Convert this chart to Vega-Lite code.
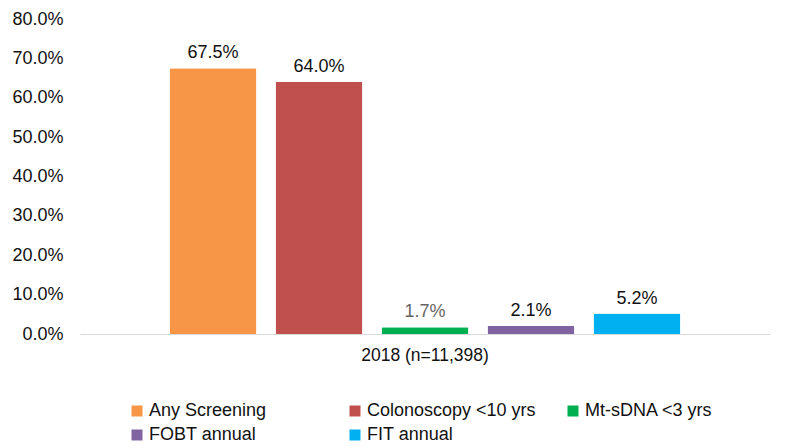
{
  "$schema": "https://vega.github.io/schema/vega-lite/v6.json",
  "autosize": {"type": "none"},
  "padding": {"left": 80, "top": 19, "right": 17, "bottom": 112},
  "width": 690,
  "height": 315,
  "background": "white",
  "config": {
    "font": "Liberation Sans",
    "view": {"stroke": null}
  },
  "data": {
    "values": [
      {"year": "2018 (n=11,398)", "series": "Any Screening", "value": 0.675},
      {"year": "2018 (n=11,398)", "series": "Colonoscopy <10 yrs", "value": 0.640},
      {"year": "2018 (n=11,398)", "series": "Mt-sDNA <3 yrs", "value": 0.017},
      {"year": "2018 (n=11,398)", "series": "FOBT annual", "value": 0.021},
      {"year": "2018 (n=11,398)", "series": "FIT annual", "value": 0.052}
    ]
  },
  "encoding": {
    "x": {
      "field": "year", "type": "nominal",
      "scale": {"paddingInner": 0, "paddingOuter": 0.151},
      "axis": {"title": null, "labelAngle": 0, "ticks": false, "domainColor": "#d9d9d9", "labelFontSize": 17.5, "labelColor": "#111", "labelPadding": 12}
    },
    "xOffset": {
      "field": "series", "type": "nominal",
      "sort": ["Any Screening", "Colonoscopy <10 yrs", "Mt-sDNA <3 yrs", "FOBT annual", "FIT annual"],
      "scale": {"paddingInner": 0.18, "paddingOuter": 0.09}
    },
    "y": {
      "field": "value", "type": "quantitative",
      "scale": {"domain": [0, 0.8], "nice": false},
      "axis": {"title": null, "format": ".1%", "values": [0, 0.1, 0.2, 0.3, 0.4, 0.5, 0.6, 0.7, 0.8], "grid": false, "ticks": false, "domain": false, "labelFontSize": 18, "labelColor": "#111", "labelPadding": 17}
    }
  },
  "layer": [
    {
      "mark": {"type": "bar", "cornerRadius": 1},
      "encoding": {
        "color": {
          "field": "series", "type": "nominal",
          "sort": ["Any Screening", "Colonoscopy <10 yrs", "Mt-sDNA <3 yrs", "FOBT annual", "FIT annual"],
          "scale": {
            "domain": ["Any Screening", "Colonoscopy <10 yrs", "Mt-sDNA <3 yrs", "FOBT annual", "FIT annual"],
            "range": ["#F79646", "#C0504D", "#00B050", "#8064A2", "#00B0F0"]
          },
          "legend": {
            "title": null,
            "orient": "none",
            "legendX": 48,
            "legendY": 383,
            "direction": "horizontal",
            "columns": 3,
            "gridAlign": "all",
            "columnPadding": 28,
            "rowPadding": 6,
            "symbolType": "square",
            "symbolSize": 121,
            "symbolStrokeWidth": 0,
            "labelFontSize": 18,
            "labelColor": "#111",
            "labelOffset": 3,
            "labelLimit": 300
          }
        }
      }
    },
    {
      "mark": {"type": "text", "baseline": "bottom", "dy": -6, "fontSize": 18},
      "encoding": {
        "text": {"field": "value", "type": "quantitative", "format": ".1%"},
        "color": {
          "condition": {"test": "datum.series === 'Mt-sDNA <3 yrs'", "value": "#666666"},
          "value": "#111111"
        }
      }
    }
  ]
}
